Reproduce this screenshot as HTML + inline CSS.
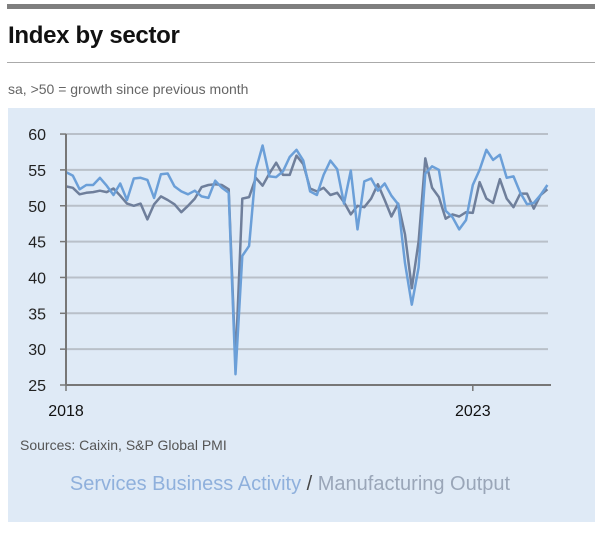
<!DOCTYPE html>
<html><head><meta charset="utf-8">
<style>
body{margin:0;width:600px;height:533px;background:#fff;font-family:"Liberation Sans",sans-serif;position:relative;overflow:hidden}
.abs{position:absolute}
</style></head><body>
<div class="abs" style="left:7px;top:4px;width:588px;height:5px;background:#7f7f7f"></div>
<div class="abs" style="left:8px;top:22px;font-size:24px;font-weight:bold;color:#111;letter-spacing:-0.3px">Index by sector</div>
<div class="abs" style="left:7px;top:62px;width:588px;height:1px;background:#aaa"></div>
<div class="abs" style="left:8px;top:81px;font-size:14px;color:#666">sa, &gt;50 = growth since previous month</div>
<div class="abs" style="left:8px;top:108px;width:587px;height:414px;background:#dfeaf6"></div>
<svg class="abs" style="left:0;top:0" width="600" height="533">
<g id="grid"></g><g id="lines"></g><g id="axes"></g>
</svg>
<div class="abs" style="left:20px;top:437px;font-size:14px;color:#555">Sources: Caixin, S&amp;P Global PMI</div>
<div class="abs" style="left:0;width:580px;text-align:center;top:473px;font-size:20px;color:#444">
<span style="color:#8fb0dc">Services Business Activity</span> / <span style="color:#9aa6b8">Manufacturing Output</span></div>
<script>
const yTicks=[25,30,35,40,45,50,55,60];
const xTickLabels=["2018","2023"];
const xTickMonths=[0,60];
const services=[54.7,54.2,52.3,52.9,52.9,53.9,52.8,51.5,53.1,50.8,53.8,53.9,
53.6,51.1,54.4,54.5,52.7,52.0,51.6,52.1,51.3,51.1,53.5,52.5,
51.8,26.5,43.0,44.4,55.0,58.4,54.1,54.0,54.8,56.8,57.8,56.3,
52.0,51.5,54.3,56.3,55.1,50.3,54.9,46.7,53.4,53.8,52.1,53.1,
51.4,50.2,42.0,36.2,41.4,54.5,55.5,55.0,49.3,48.4,46.7,48.0,
52.9,55.0,57.8,56.4,57.1,53.9,54.1,51.8,50.2,50.4,51.5,52.9];
const manufacturing=[52.7,52.5,51.6,51.8,51.9,52.1,51.9,52.4,51.4,50.3,50.0,50.3,
48.1,50.2,51.3,50.8,50.2,49.1,50.0,51.0,52.6,52.9,53.0,52.9,
52.3,28.0,51.0,51.2,53.9,52.8,54.5,56.0,54.3,54.3,57.0,55.8,
52.4,52.0,52.5,51.5,51.8,50.5,48.8,50.0,49.8,51.0,53.0,50.8,
48.5,50.3,46.0,38.5,45.0,56.6,52.5,51.2,48.2,48.8,48.5,49.1,
49.0,53.3,51.0,50.4,53.7,51.0,49.8,51.7,51.7,49.6,51.5,52.3];
const X0=66,PX=6.78,Y0=385,PY=7.17;
const xs=m=>X0+m*PX, ys=v=>Y0-(v-25)*PY;
const NS="http://www.w3.org/2000/svg";
function mk(t,a,p){const e=document.createElementNS(NS,t);for(const k in a)e.setAttribute(k,a[k]);p.appendChild(e);return e;}
const grid=document.getElementById('grid'),axes=document.getElementById('axes'),lines=document.getElementById('lines');
yTicks.forEach(v=>{
 if(v>25){const g=mk('line',{x1:X0,x2:548,y1:ys(v),y2:ys(v),stroke:'#b9c0c9','stroke-width':2},grid);
 
 }
 const t=mk('text',{x:46,y:ys(v)+6,'text-anchor':'end','font-size':16,fill:'#222','font-family':'Liberation Sans, sans-serif'},axes);
 t.textContent=v;
 
 
 const tk=mk('line',{x1:60,x2:X0,y1:ys(v),y2:ys(v),stroke:'#777','stroke-width':1.5},axes);
 
 
});
const ya=mk('line',{x1:X0,x2:X0,y1:ys(60),y2:Y0,stroke:'#777','stroke-width':2},axes);


const xa=mk('line',{x1:X0,x2:551,y1:Y0,y2:Y0,stroke:'#777','stroke-width':2},axes);


xTickMonths.forEach((m,i)=>{
 const tk=mk('line',{x1:xs(m),x2:xs(m),y1:Y0,y2:Y0+6,stroke:'#777','stroke-width':1.5},axes);
 
 
 const t=mk('text',{x:xs(m),y:Y0+31,'text-anchor':'middle','font-size':16,fill:'#111','font-family':'Liberation Sans, sans-serif'},axes);
 t.textContent=xTickLabels[i];
 
 
});
function pts(a){return a.map((v,i)=>xs(i).toFixed(1)+','+ys(v).toFixed(1)).join(' ');}
const lm=mk('polyline',{points:pts(manufacturing),fill:'none',stroke:'#6f7f9b','stroke-width':2.5,'stroke-linejoin':'round'},lines);


const ls=mk('polyline',{points:pts(services),fill:'none',stroke:'#6b9fd8','stroke-width':2.5,'stroke-linejoin':'round'},lines);


</script>
</body></html>
